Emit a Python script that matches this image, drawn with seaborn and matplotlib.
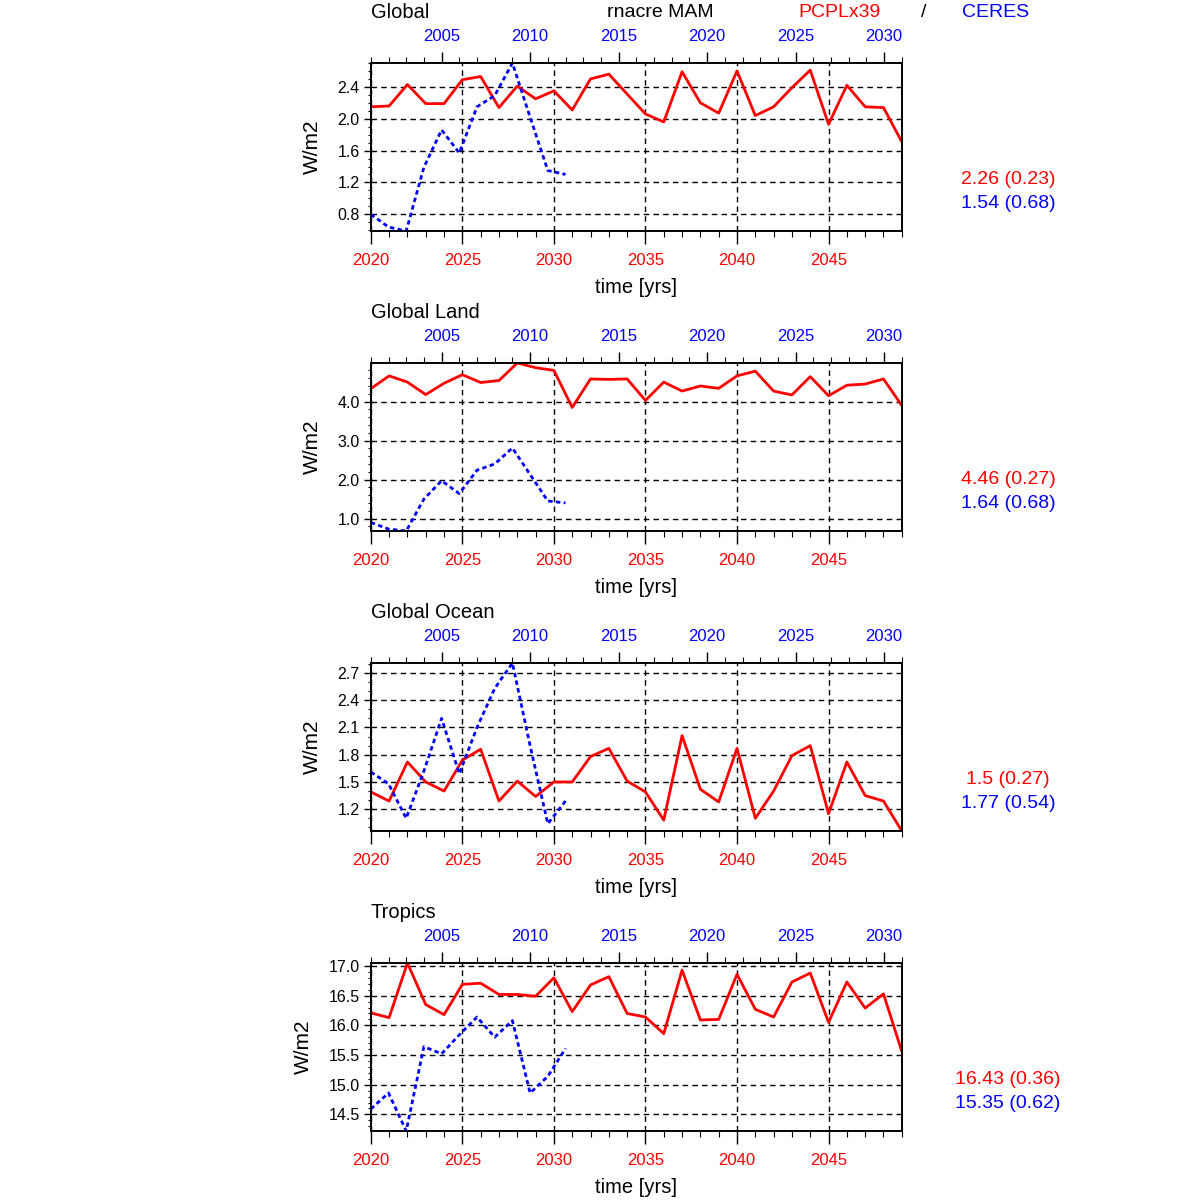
"""
rnacre MAM timeseries: PCPLx39 model years vs CERES observations
"""

import numpy as np
import matplotlib
matplotlib.use("Agg")
import matplotlib.pyplot as plt
from matplotlib.ticker import MultipleLocator
import seaborn as sns

sns.set_style("ticks")
plt.rcParams['font.family'] = ['Liberation Sans', 'DejaVu Sans']
plt.rcParams['text.color'] = 'black'
plt.rcParams['axes.labelcolor'] = 'black'
plt.rcParams['xtick.color'] = 'black'
plt.rcParams['ytick.color'] = 'black'
plt.rcParams['axes.edgecolor'] = 'black'

# Data
model_years = list(range(2020, 2050))
obs_years = list(range(2001, 2013))

regions = ["Global", "Global Land", "Global Ocean", "Tropics"]

global_model = [2.15, 2.16, 2.43, 2.19, 2.19, 2.49, 2.53, 2.14, 2.41, 2.25,
                2.35, 2.11, 2.50, 2.56, 2.31, 2.06, 1.96, 2.59, 2.20, 2.07,
                2.60, 2.04, 2.15, 2.39, 2.61, 1.93, 2.42, 2.15, 2.14, 1.71]
global_obs = [0.80, 0.64, 0.59, 1.39, 1.86, 1.57, 2.15, 2.29, 2.70, 2.02, 1.35, 1.30]

land_model = [4.33, 4.66, 4.50, 4.18, 4.47, 4.69, 4.49, 4.54, 4.99, 4.87,
              4.80, 3.85, 4.58, 4.57, 4.58, 4.03, 4.50, 4.27, 4.40, 4.34,
              4.66, 4.78, 4.27, 4.17, 4.64, 4.15, 4.42, 4.45, 4.58, 3.90]
land_obs = [0.90, 0.73, 0.68, 1.50, 1.97, 1.64, 2.24, 2.40, 2.81, 2.13, 1.45, 1.40]

ocean_model = [1.39, 1.29, 1.72, 1.50, 1.40, 1.74, 1.86, 1.29, 1.51, 1.34,
               1.50, 1.50, 1.78, 1.87, 1.51, 1.39, 1.08, 2.01, 1.42, 1.28,
               1.87, 1.10, 1.40, 1.79, 1.90, 1.15, 1.72, 1.35, 1.29, 0.96]
ocean_obs = [1.61, 1.48, 1.10, 1.62, 2.20, 1.59, 2.10, 2.53, 2.81, 1.90, 1.04, 1.29]

tropics_model = [16.21, 16.13, 17.05, 16.35, 16.18, 16.69, 16.71, 16.52, 16.52, 16.49,
                 16.80, 16.23, 16.68, 16.82, 16.20, 16.14, 15.86, 16.93, 16.09, 16.10,
                 16.86, 16.27, 16.14, 16.73, 16.88, 16.05, 16.73, 16.29, 16.53, 15.56]
tropics_obs = [14.59, 14.86, 14.22, 15.64, 15.52, 15.84, 16.14, 15.80, 16.08, 14.86, 15.14, 15.61]

model_series = [global_model, land_model, ocean_model, tropics_model]
obs_series = [global_obs, land_obs, ocean_obs, tropics_obs]

model_stats = ["2.26 (0.23)", "4.46 (0.27)", "1.5 (0.27)", "16.43 (0.36)"]
obs_stats = ["1.54 (0.68)", "1.64 (0.68)", "1.77 (0.54)", "15.35 (0.62)"]

# y tick spacing (major, minor) per panel
ytick_major = [0.4, 1.0, 0.3, 0.5]
ytick_minor = [0.1, 0.2, 0.1, 0.1]

fig = plt.figure(figsize=(12, 12), dpi=100)

left, width, height = 0.309, 0.4425, 0.14
grid_ls = (0, (4, 3))

for i, name in enumerate(regions):
    bottom = 0.8075 - i * 0.25
    ax = fig.add_axes([left, bottom, width, height])

    sns.lineplot(x=model_years, y=model_series[i], ax=ax, color='red', lw=2)
    ax.set_xlim(2020, 2049)
    lo = min(min(model_series[i]), min(obs_series[i]))
    hi = max(max(model_series[i]), max(obs_series[i]))
    ax.set_ylim(lo, hi)

    ax.xaxis.set_major_locator(MultipleLocator(5))
    ax.xaxis.set_minor_locator(MultipleLocator(1))
    ax.yaxis.set_major_locator(MultipleLocator(ytick_major[i]))
    ax.yaxis.set_minor_locator(MultipleLocator(ytick_minor[i]))
    ax.yaxis.set_major_formatter(matplotlib.ticker.FormatStrFormatter('%.1f'))
    ax.grid(True, which='major', color='black', linestyle=grid_ls, lw=1)
    ax.tick_params(axis='x', which='major', direction='out', length=9, width=1,
                   labelsize=12, labelcolor='red', pad=7, top=False)
    ax.tick_params(axis='x', which='minor', direction='out', length=4, width=0.8, top=False)
    ax.tick_params(axis='y', which='major', direction='out', length=5, width=1,
                   labelsize=11.5, pad=3, right=False)
    ax.tick_params(axis='y', which='minor', direction='out', length=2.5, width=0.8, right=False)
    ax.set_xlabel('time [yrs]', fontsize=14.5, labelpad=7)
    ax.set_ylabel('W/m2', fontsize=15, labelpad=11)
    for sp in ax.spines.values():
        sp.set_linewidth(1.2)
        sp.set_visible(True)

    ax2 = ax.twiny()
    sns.lineplot(x=obs_years, y=obs_series[i], ax=ax2, color='blue', lw=2,
                 linestyle=(0, (1.6, 1.2)))
    ax2.set_xlim(2001, 2031)
    ax2.set_ylim(lo, hi)
    ax2.xaxis.set_major_locator(MultipleLocator(5))
    ax2.xaxis.set_minor_locator(MultipleLocator(1))
    ax2.tick_params(axis='x', which='major', direction='out', length=8, width=1,
                    labelsize=12, labelcolor='blue', pad=6)
    ax2.tick_params(axis='x', which='minor', direction='out', length=4, width=0.8)
    ax2.set_xlabel('')
    ax2.set_ylabel('')
    ax2.grid(False)
    for sp in ax2.spines.values():
        sp.set_linewidth(1.2)

    # region title
    fig.text(left, bottom + height + 0.0425, name, fontsize=14.5,
             ha='left', va='center')

    # stats on the right
    fig.text(0.84, bottom + 0.0425, model_stats[i], fontsize=14, color='red',
             ha='center', va='center')
    fig.text(0.84, bottom + 0.0225, obs_stats[i], fontsize=14, color='blue',
             ha='center', va='center')

# header
fig.text(0.55, 0.9895, 'rnacre MAM', fontsize=14, ha='center', va='center')
fig.text(0.70, 0.9895, 'PCPLx39', fontsize=14, color='red', ha='center', va='center')
fig.text(0.77, 0.9895, '/', fontsize=14, ha='center', va='center')
fig.text(0.83, 0.9895, 'CERES', fontsize=14, color='blue', ha='center', va='center')

plt.savefig('out.png', dpi=100)
